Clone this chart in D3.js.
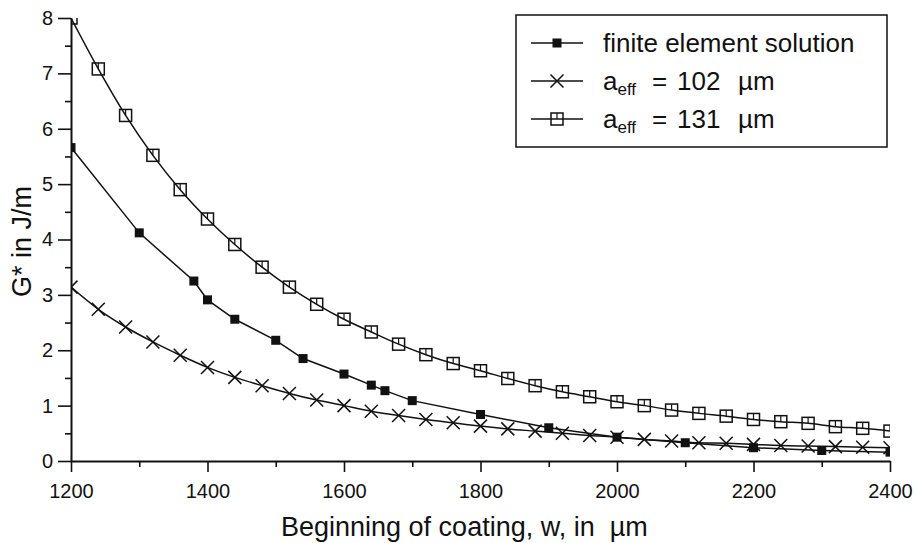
<!DOCTYPE html>
<html>
<head>
<meta charset="utf-8">
<script src="https://cdn.jsdelivr.net/npm/d3@7"></script>
<style>
  body { margin: 0; background: #fff; }
  svg { font-family: "Liberation Sans", Arial, sans-serif; }
  text { white-space: pre; }
</style>
</head>
<body>
<svg id="chart"></svg>
<script>
// Data
const xFE = [1200, 1300, 1380, 1400, 1440, 1500, 1540, 1600, 1640, 1660, 1700, 1800, 1900, 2000, 2100, 2200, 2300, 2400];
const yFE = [5.66, 4.12, 3.25, 2.91, 2.56, 2.18, 1.85, 1.57, 1.37, 1.27, 1.09, 0.84, 0.60, 0.43, 0.33, 0.24, 0.19, 0.16];

const xModel = [1200, 1240, 1280, 1320, 1360, 1400, 1440, 1480, 1520, 1560, 1600, 1640, 1680, 1720, 1760, 1800,
  1840, 1880, 1920, 1960, 2000, 2040, 2080, 2120, 2160, 2200, 2240, 2280, 2320, 2360, 2400];
const y102 = [3.14, 2.74, 2.42, 2.15, 1.91, 1.69, 1.51, 1.36, 1.22, 1.10, 1.00, 0.90, 0.82, 0.75, 0.69, 0.63,
  0.58, 0.54, 0.50, 0.46, 0.43, 0.39, 0.36, 0.33, 0.32, 0.30, 0.28, 0.27, 0.26, 0.25, 0.24];
const y131 = [8.00, 7.08, 6.24, 5.52, 4.90, 4.37, 3.91, 3.50, 3.14, 2.83, 2.56, 2.33, 2.11, 1.92, 1.76, 1.63,
  1.49, 1.36, 1.25, 1.16, 1.07, 1.00, 0.92, 0.86, 0.81, 0.75, 0.71, 0.68, 0.62, 0.59, 0.54];

const xTicks = [1200, 1400, 1600, 1800, 2000, 2200, 2400];
const yTicks = [0, 1, 2, 3, 4, 5, 6, 7, 8];

// chart size
const W = 917, H = 543;
const margin = { top: 18, right: 27, bottom: 82, left: 71 };
const width = W - margin.left - margin.right;
const height = H - margin.top - margin.bottom;

const svg = d3.select("#chart").attr("width", W).attr("height", H);
const g = svg.append("g").attr("transform", `translate(${margin.left},${margin.top})`);

const x = d3.scaleLinear().domain([1200, 2400]).range([0, width]);
const y = d3.scaleLinear().domain([0, 8]).range([height, 0]);

svg.append("defs").append("clipPath").attr("id", "plot")
  .append("rect").attr("width", width).attr("height", height);

// axes: minor ticks first, then major ones
g.append("g")
  .attr("transform", `translate(0,${height})`)
  .call(d3.axisBottom(x).tickValues(d3.range(1300, 2400, 200)).tickSize(6).tickFormat(""))
  .call(a => a.select(".domain").remove());
g.append("g")
  .call(d3.axisLeft(y).tickValues(d3.range(0.5, 8, 1)).tickSize(6).tickFormat(""))
  .call(a => a.select(".domain").remove());

g.append("g")
  .attr("transform", `translate(0,${height})`)
  .call(d3.axisBottom(x).tickValues(xTicks).tickSize(11).tickSizeOuter(0).tickPadding(12).tickFormat(d3.format("d")));
g.append("g")
  .call(d3.axisLeft(y).tickValues(yTicks).tickSize(13).tickSizeOuter(0).tickPadding(5));

g.selectAll(".tick line").attr("stroke", "#111").attr("stroke-width", 1.6);
g.selectAll(".domain").attr("stroke", "#111").attr("stroke-width", 2);
g.selectAll(".tick text").attr("font-size", 20).attr("fill", "#111");

// axis titles
svg.append("text")
  .attr("x", 281).attr("y", 536)
  .attr("font-size", 27).attr("fill", "#111")
  .text("Beginning of coating, w, in  \u00b5m");
svg.append("text")
  .attr("transform", "translate(31,297) rotate(-90)")
  .attr("font-size", 27).attr("fill", "#111")
  .text("G* in J/m");

// markers
function drawMarker(sel, kind) {
  if (kind === "filled") {
    sel.append("rect").attr("x", -4.5).attr("y", -4.5).attr("width", 9).attr("height", 9).attr("fill", "#111");
  } else if (kind === "cross") {
    sel.append("path").attr("d", "M-6.5,-6.5L6.5,6.5M-6.5,6.5L6.5,-6.5")
      .attr("stroke", "#111").attr("stroke-width", 1.5).attr("fill", "none");
  } else {
    sel.append("rect").attr("x", -6).attr("y", -6).attr("width", 12).attr("height", 12)
      .attr("fill", "none").attr("stroke", "#111").attr("stroke-width", 1.5);
    sel.append("path").attr("d", "M0,-6V0").attr("stroke", "#111").attr("stroke-width", 1.2);
  }
}

const series = [
  { xs: xFE, ys: yFE, kind: "filled", curve: d3.curveLinear },
  { xs: xModel, ys: y102, kind: "cross", curve: d3.curveMonotoneX },
  { xs: xModel, ys: y131, kind: "open", curve: d3.curveMonotoneX }
];

const plot = g.append("g").attr("clip-path", "url(#plot)");

series.forEach(s => {
  const pts = s.xs.map((v, i) => [v, s.ys[i]]);
  const line = d3.line().x(d => x(d[0])).y(d => y(d[1])).curve(s.curve);
  plot.append("path").datum(pts)
    .attr("fill", "none").attr("stroke", "#111").attr("stroke-width", 1.5)
    .attr("d", line);
  plot.selectAll(null).data(pts).enter().append("g")
    .attr("transform", d => `translate(${x(d[0])},${y(d[1])})`)
    .each(function() { drawMarker(d3.select(this), s.kind); });
});

// legend
const legend = svg.append("g");
legend.append("rect").attr("x", 516).attr("y", 15).attr("width", 371).attr("height", 132)
  .attr("fill", "#fff").attr("stroke", "#111").attr("stroke-width", 1.5);

const rows = [
  { kind: "filled", y: 43 },
  { kind: "cross", y: 81 },
  { kind: "open", y: 119 }
];
rows.forEach(r => {
  legend.append("line").attr("x1", 531).attr("x2", 583).attr("y1", r.y).attr("y2", r.y)
    .attr("stroke", "#111").attr("stroke-width", 1.5);
  drawMarker(legend.append("g").attr("transform", `translate(557,${r.y})`), r.kind);
});

legend.append("text").attr("x", 603).attr("y", 52).attr("font-size", 26).attr("fill", "#111")
  .text("finite element solution");

function effLabel(yPos, val) {
  const t = legend.append("text").attr("x", 603).attr("y", yPos).attr("font-size", 26).attr("fill", "#111");
  t.append("tspan").text("a");
  t.append("tspan").attr("font-size", 17).attr("dy", 5).text("eff");
  t.append("tspan").attr("x", 652).attr("dy", -5).text("=");
  t.append("tspan").attr("x", 677).text(val);
  t.append("tspan").attr("x", 738).text("\u00b5m");
}
effLabel(90, "102");
effLabel(128, "131");
</script>
</body>
</html>
